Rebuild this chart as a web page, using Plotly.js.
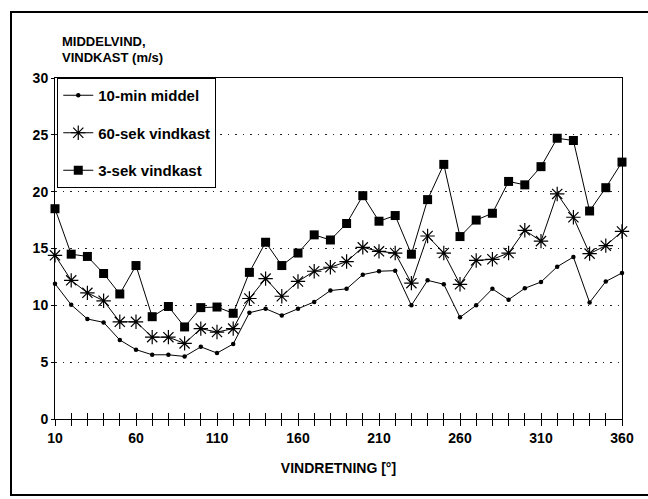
<!DOCTYPE html>
<html>
<head>
<meta charset="utf-8">
<script src="https://cdn.plot.ly/plotly-3.0.1.min.js"></script>
<style>html,body{margin:0;padding:0;background:#fff;}#chart{width:648px;height:499px;}</style>
</head>
<body>
<div id="chart"></div>
<script>
var directions = [10,20,30,40,50,60,70,80,90,100,110,120,130,140,150,160,170,180,190,200,210,220,230,240,250,260,270,280,290,300,310,320,330,340,350,360];
var labeledTicks = [10,60,110,160,210,260,310,360];
var yTicks = [0,5,10,15,20,25,30];
var min10 = [11.9,10.05,8.8,8.5,6.95,6.1,5.65,5.65,5.5,6.35,5.8,6.6,9.35,9.7,9.1,9.7,10.3,11.3,11.45,12.7,13.0,13.05,10.0,12.2,11.85,8.95,10.0,11.45,10.5,11.5,12.05,13.4,14.25,10.25,12.1,12.85];
var sek60 = [14.4,12.2,11.1,10.4,8.55,8.55,7.2,7.2,6.65,7.95,7.65,7.95,10.6,12.35,10.8,12.1,13.0,13.35,13.85,15.1,14.75,14.6,11.95,16.1,14.6,11.85,13.95,14.05,14.6,16.6,15.65,19.8,17.75,14.55,15.25,16.5];
var sek3 = [18.5,14.5,14.3,12.8,11.0,13.5,9.0,9.9,8.1,9.8,9.85,9.3,12.9,15.55,13.5,14.6,16.2,15.75,17.2,19.65,17.4,17.9,14.5,19.3,22.4,16.05,17.5,18.1,20.9,20.6,22.2,24.7,24.5,18.3,20.35,22.6];
var seriesNames = ['10-min middel','60-sek vindkast','3-sek vindkast'];

var FONT = 'Liberation Sans, Arial, Helvetica, sans-serif';
var tickText = directions.map(function(d){ return labeledTicks.indexOf(d) >= 0 ? String(d) : ''; });

var traces = [
  {x: directions, y: min10, name: seriesNames[0], type: 'scatter', mode: 'lines+markers', legendgroup: 'a',
   line: {color: '#000', width: 1}, marker: {symbol: 'circle', size: 4.5, color: '#000'}, cliponaxis: false},
  {x: directions, y: sek60, name: seriesNames[1], type: 'scatter', mode: 'lines+markers', legendgroup: 'b',
   line: {color: '#000', width: 1}, marker: {symbol: 'asterisk-open', size: 12, color: '#000', line: {color: '#000', width: 1.2}}, cliponaxis: false},
  {x: directions, y: sek3, name: seriesNames[2], type: 'scatter', mode: 'lines+markers', legendgroup: 'c',
   line: {color: '#000', width: 1}, marker: {symbol: 'square', size: 9, color: '#000'}, cliponaxis: false},
  {x: [directions[0]], y: [0], xaxis: 'x2', yaxis: 'y', type: 'scatter', mode: 'markers', showlegend: false,
   marker: {opacity: 0}, hoverinfo: 'skip'}
];

var layout = {
  width: 648, height: 499,
  margin: {l: 55, r: 26, t: 78, b: 80},
  paper_bgcolor: '#fff', plot_bgcolor: '#fff',
  font: {family: FONT, color: '#000', size: 13, weight: 'bold'},
  showlegend: true,
  legend: {x: 0.004, y: 1, xanchor: 'left', yanchor: 'top', bordercolor: '#000', borderwidth: 1,
           bgcolor: '#fff', font: {family: FONT, size: 15, color: '#000', weight: 'bold'}, tracegroupgap: 15,
           itemwidth: 30},
  xaxis: {range: [10, 360], tickvals: directions, ticktext: tickText, ticks: 'outside', ticklen: 6,
          tickcolor: '#000', showline: true, linecolor: '#000', linewidth: 1, mirror: true,
          showgrid: false, zeroline: false,
          tickfont: {family: FONT, size: 14, color: '#000', weight: 'bold'},
          title: {text: 'VINDRETNING [°]', font: {family: FONT, size: 14, color: '#000', weight: 'bold'}, standoff: 18}},
  xaxis2: {range: [10, 360], overlaying: 'x', anchor: 'y', side: 'bottom', tickvals: directions,
           ticks: 'inside', ticklen: 6, tickcolor: '#000', showticklabels: false, showgrid: false,
           zeroline: false, showline: false},
  yaxis: {range: [0, 30], tickvals: yTicks, ticks: 'outside', ticklen: 3, tickcolor: '#000',
          showline: true, linecolor: '#000', linewidth: 1, mirror: true,
          showgrid: true, gridcolor: '#222', griddash: '1.5px,6px', gridwidth: 1.2, zeroline: false,
          tickfont: {family: FONT, size: 14, color: '#000', weight: 'bold'}},
  annotations: [
    {text: 'MIDDELVIND,', xref: 'paper', yref: 'paper', x: 0.009, y: 1.1056, xanchor: 'left', yanchor: 'middle',
     showarrow: false, font: {family: FONT, size: 13, color: '#000', weight: 'bold'}},
    {text: 'VINDKAST (m/s)', xref: 'paper', yref: 'paper', x: 0.009, y: 1.0587, xanchor: 'left', yanchor: 'middle',
     showarrow: false, font: {family: FONT, size: 13, color: '#000', weight: 'bold'}}
  ],
  shapes: [
    {type: 'rect', xref: 'paper', yref: 'paper', x0: -0.0776, x1: 1.2, y0: -0.223, y1: 1.1935,
     line: {color: '#000', width: 2}, layer: 'below'}
  ]
};

Plotly.newPlot('chart', traces, layout, {displayModeBar: false, staticPlot: true});
</script>
</body>
</html>
